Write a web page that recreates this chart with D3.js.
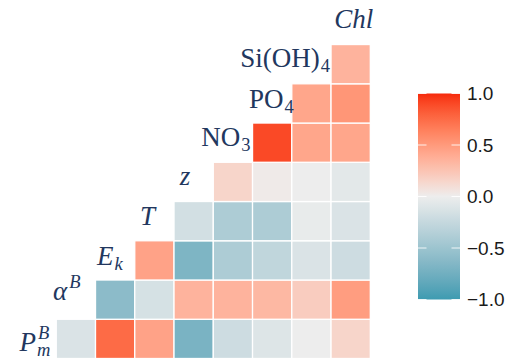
<!DOCTYPE html>
<html>
<head>
<meta charset="utf-8">
<script src="https://cdn.jsdelivr.net/npm/d3@7"></script>
<style>
  html, body { margin: 0; padding: 0; background: #fff; }
  svg { display: block; }
</style>
</head>
<body>
<svg id="chart" width="511" height="358"></svg>
<script>
// Variables, in matrix order (bottom row first)
const variables = ["PmB", "alphaB", "Ek", "T", "z", "NO3", "PO4", "SiOH4", "Chl"];

// Label text for each variable: base, subscript, superscript, italic
const labelBase   = ["P", "\u03B1", "E", "T", "z", "NO", "PO", "Si(OH)", "Chl"];
const labelSub    = ["m", "", "k", "", "", "3", "4", "4", ""];
const labelSup    = ["B", "B", "", "", "", "", "", "", ""];
const labelItalic = [true, true, true, true, true, false, false, false, true];

// Correlations, one array per variable against every later variable
const corrPmB    = [-0.12, 0.75, 0.45, -0.70, -0.20, -0.10, 0.00, 0.15];
const corrAlphaB = [-0.60, -0.15, 0.35, 0.35, 0.32, 0.20, 0.48];
const corrEk     = [0.45, -0.68, -0.40, -0.28, -0.12, -0.20];
const corrT      = [-0.17, -0.40, -0.40, -0.03, -0.12];
const corrZ      = [0.15, 0.02, 0.00, -0.06];
const corrNO3    = [0.90, 0.43, 0.43];
const corrPO4    = [0.43, 0.52];
const corrSiOH4  = [0.35];

// Colour bar ticks
const legendTicks = [1.0, 0.5, 0.0, -0.5, -1.0];

const corrRows = [corrPmB, corrAlphaB, corrEk, corrT, corrZ, corrNO3, corrPO4, corrSiOH4];
const cells = [];
corrRows.forEach((row, i) => {
  row.forEach((v, k) => cells.push({ row: variables[i], col: variables[i + 1 + k], value: v }));
});

const svg = d3.select("#chart");

const x = d3.scaleBand().domain(variables).range([17, 370.3]).padding(0);
const y = d3.scaleBand().domain(variables).range([358.5, 5.3]).padding(0);

const color = d3.scaleLinear()
  .domain([-1, 0, 1])
  .range(["#3d9bb1", "#ededed", "#f6290b"])
  .interpolate(d3.interpolateLab);

// Tiles
svg.append("g").selectAll("rect")
  .data(cells)
  .join("rect")
  .attr("x", d => x(d.col))
  .attr("y", d => y(d.row))
  .attr("width", x.bandwidth())
  .attr("height", y.bandwidth())
  .attr("fill", d => color(d.value))
  .attr("stroke", "#fff")
  .attr("stroke-width", 1.3);

// Diagonal labels: right edge offset from the cell's right side, baseline offset from cell centre
const labelShift = [[-6, 12], [-15, 0.5], [-12, 4.5], [-19, 4], [-23, 3], [-2, 3.5], [2, 4.5], [-1, 3], [3, 3]];
const labelColor = "#22375e";
const baseSize = 27;
const smallSize = 18.5;
const serif = "'Liberation Serif', 'Times New Roman', serif";

const labels = svg.append("g");
variables.forEach((v, i) => {
  const g = labels.append("g");
  const base = g.append("text")
    .attr("x", 0).attr("y", 0)
    .attr("font-family", serif)
    .attr("font-size", baseSize)
    .attr("font-style", labelItalic[i] ? "italic" : "normal")
    .attr("fill", labelColor)
    .text(labelBase[i]);
  const w = base.node().getComputedTextLength();
  let right = w;
  if (labelSub[i]) {
    const s = g.append("text")
      .attr("x", w + 1).attr("y", 5)
      .attr("font-family", serif)
      .attr("font-size", smallSize)
      .attr("font-style", labelItalic[i] ? "italic" : "normal")
      .attr("fill", labelColor)
      .text(labelSub[i]);
    right = Math.max(right, w + 1 + s.node().getComputedTextLength());
  }
  if (labelSup[i]) {
    const s = g.append("text")
      .attr("x", w + 2).attr("y", -12)
      .attr("font-family", serif)
      .attr("font-size", smallSize)
      .attr("font-style", "italic")
      .attr("fill", labelColor)
      .text(labelSup[i]);
    right = Math.max(right, w + 2 + s.node().getComputedTextLength());
  }
  const cx = x(v) + x.bandwidth() + labelShift[i][0];
  const cy = y(v) + y.bandwidth() / 2 + labelShift[i][1];
  g.attr("transform", `translate(${cx - right},${cy})`);
});

// Colour bar
const barX = 418, barW = 42;
const bar = d3.scaleLinear().domain([1, -1]).range([93.5, 299.5]);

const grad = svg.append("defs").append("linearGradient")
  .attr("id", "corrGrad")
  .attr("x1", 0).attr("y1", 0).attr("x2", 0).attr("y2", 1);
d3.range(0, 41).forEach(k => {
  const t = k / 40;
  grad.append("stop")
    .attr("offset", t)
    .attr("stop-color", color(1 - 2 * t));
});

svg.append("rect")
  .attr("x", barX).attr("y", bar(1))
  .attr("width", barW).attr("height", bar(-1) - bar(1))
  .attr("fill", "url(#corrGrad)");

const tickG = svg.append("g");
legendTicks.forEach(t => {
  const ty = bar(t);
  tickG.append("line")
    .attr("x1", barX).attr("x2", barX + 8.5)
    .attr("y1", ty).attr("y2", ty)
    .attr("stroke", "#fff").attr("stroke-opacity", 0.85).attr("stroke-width", 1);
  tickG.append("line")
    .attr("x1", barX + barW - 8.5).attr("x2", barX + barW)
    .attr("y1", ty).attr("y2", ty)
    .attr("stroke", "#fff").attr("stroke-opacity", 0.85).attr("stroke-width", 1);
  tickG.append("text")
    .attr("x", 467)
    .attr("y", ty + 6.8)
    .attr("font-family", "'Liberation Sans', Arial, Helvetica, sans-serif")
    .attr("font-size", 19)
    .attr("fill", "#1a1a1a")
    .text(d3.format(".1f")(t).replace("-", "\u2212"));
});
</script>
</body>
</html>
